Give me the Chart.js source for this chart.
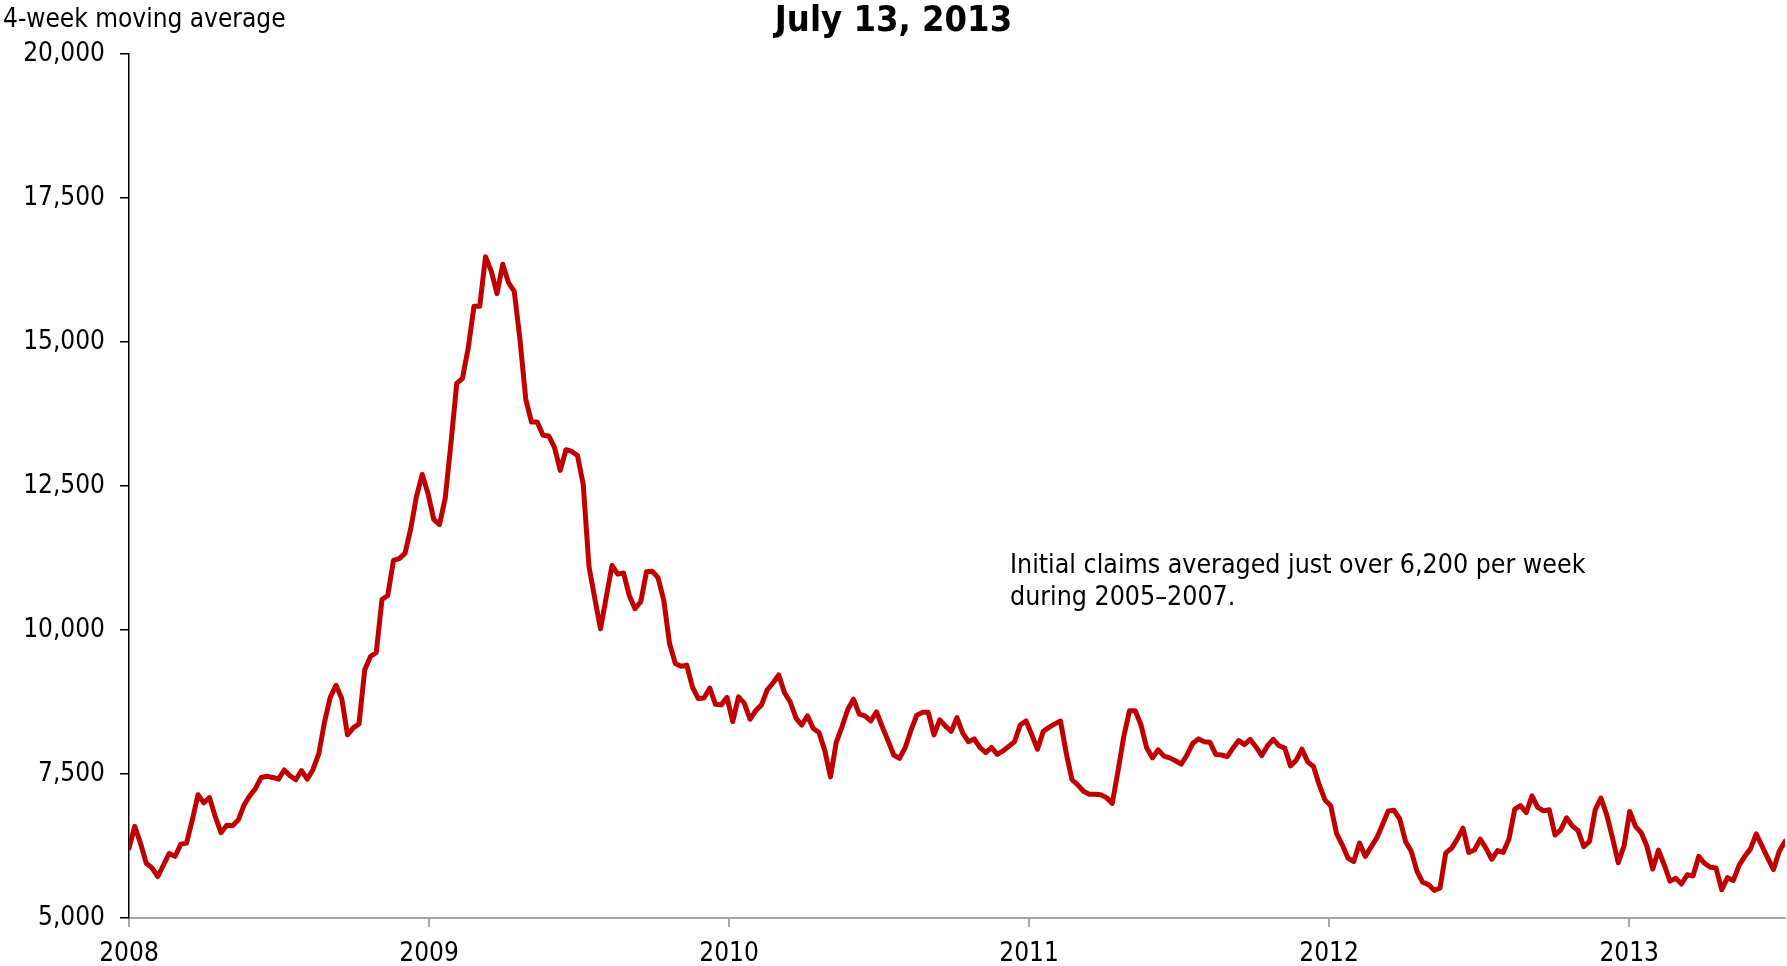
<!DOCTYPE html>
<html>
<head>
<meta charset="utf-8">
<title>Initial claims, 4-week moving average</title>
<script src="https://cdn.jsdelivr.net/npm/chart.js@4.4.0/dist/chart.umd.min.js"></script>
<style>
    html, body { margin: 0; padding: 0; background: #fff; }
    #wrap { position: relative; width: 1787px; height: 966px; }
    .txt {
        position: absolute;
        font-family: 'DejaVu Sans Condensed', 'DejaVu Sans', sans-serif;
        color: #000;
        white-space: nowrap;
    }
    #title { left: 0; width: 1787px; text-align: center; top: 1px; font-size: 36px; font-weight: bold; line-height: 36px; }
    #ylabel { left: 3px; top: 5px; font-size: 26px; line-height: 26px; }
    #note { left: 1010px; top: 548px; font-size: 26.5px; line-height: 32px; }
</style>
</head>
<body>
<div id="wrap">
    <canvas id="chart" width="1787" height="966"></canvas>
    <div class="txt" id="title">July 13, 2013</div>
    <div class="txt" id="ylabel">4-week moving average</div>
    <div class="txt" id="note">Initial claims averaged just over 6,200 per week<br>during 2005–2007.</div>
</div>
<script>
// ///////////////////////
//
// data: weekly 4-week moving average, first week ending 2008-01-05
//
var startYear = 2008;
var yearTicks = [2008, 2009, 2010, 2011, 2012, 2013];
var valueTicks = [5000, 7500, 10000, 12500, 15000, 17500, 20000];

var claims = [
    6210, 6590, 6300, 5950, 5870, 5720, 5920, 6120, 6070, 6280,
    6300, 6700, 7140, 7000, 7090, 6760, 6480, 6610, 6600, 6700,
    6960, 7120, 7250, 7440, 7460, 7440, 7410, 7570, 7470, 7400,
    7560, 7410, 7580, 7850, 8400, 8830, 9040, 8810, 8180, 8300,
    8370, 9310, 9540, 9610, 10530, 10600, 11210, 11240, 11330, 11760,
    12320, 12700, 12370, 11920, 11830, 12290, 13250, 14280, 14370, 14900,
    15620, 15620, 16480, 16230, 15840, 16350, 16030, 15880, 15040, 14010,
    13610, 13610, 13380, 13370, 13170, 12770, 13130, 13100, 13030, 12520,
    11100, 10550, 10020, 10570, 11120, 10970, 10990, 10600, 10370, 10490,
    11010, 11020, 10910, 10520, 9770, 9420, 9370, 9390, 9010, 8810,
    8820, 8990, 8710, 8700, 8830, 8410, 8840, 8730, 8450, 8600,
    8700, 8960, 9080, 9220, 8910, 8750, 8470, 8350, 8510, 8290,
    8220, 7910, 7450, 8050, 8320, 8620, 8800, 8540, 8510, 8420,
    8580, 8320, 8080, 7830, 7770, 7960, 8260, 8520, 8570, 8570,
    8180, 8440, 8330, 8240, 8480, 8210, 8060, 8110, 7960, 7870,
    7960, 7840, 7900, 7980, 8060, 8350, 8420, 8180, 7930, 8240,
    8310, 8370, 8420, 7860, 7400, 7310, 7200, 7150, 7150, 7140,
    7090, 6990, 7550, 8150, 8600, 8600, 8350, 7950, 7780, 7920,
    7810, 7780, 7730, 7670, 7830, 8030, 8110, 8060, 8050, 7840,
    7830, 7800, 7950, 8080, 8010, 8100, 7970, 7820, 7990, 8100,
    7990, 7950, 7640, 7740, 7930, 7710, 7630, 7310, 7050, 6950,
    6470, 6270, 6040, 5980, 6300, 6070, 6230, 6390, 6620, 6860,
    6870, 6720, 6330, 6160, 5810, 5620, 5580, 5480, 5520, 6130,
    6210, 6370, 6560, 6140, 6180, 6370, 6210, 6020, 6170, 6140,
    6370, 6890, 6950, 6830, 7120, 6920, 6860, 6880, 6440, 6530,
    6740, 6600, 6520, 6240, 6330, 6880, 7080, 6790, 6390, 5960,
    6250, 6850, 6590, 6480, 6240, 5850, 6180, 5920, 5640, 5690,
    5590, 5750, 5730, 6070, 5950, 5880, 5870, 5490, 5700, 5650,
    5910, 6070, 6200, 6460, 6250, 6040, 5840, 6160, 6330
];

// week index -> fractional year
var points = claims.map(function(v, i) {
    return { x: startYear + i * 7 / 365.25, y: v };
});
var lastX = points[points.length - 1].x;

var FONT = "'DejaVu Sans Condensed', 'DejaVu Sans', sans-serif";
Chart.defaults.font.family = FONT;
Chart.defaults.color = '#000';

new Chart(document.getElementById('chart'), {
    type: 'line',
    data: {
        datasets: [{
            data: points,
            borderColor: '#C00000',
            borderWidth: 5,
            borderJoinStyle: 'round',
            borderCapStyle: 'round',
            pointRadius: 0,
            tension: 0,
            fill: false
        }]
    },
    options: {
        responsive: false,
        animation: false,
        devicePixelRatio: 1,
        layout: { padding: { left: 0, top: 54, right: 2, bottom: 0 } },
        plugins: {
            legend: { display: false },
            tooltip: { enabled: false },
            title: { display: false }
        },
        scales: {
            x: {
                type: 'linear',
                min: startYear,
                max: lastX,
                grid: { drawOnChartArea: false, drawTicks: true, tickLength: 9, color: '#a6a6a6', lineWidth: 2 },
                border: { display: true, color: '#a6a6a6', width: 2 },
                ticks: {
                    color: '#000',
                    font: { size: 26 },
                    padding: 12,
                    maxRotation: 0,
                    callback: function(v) { return String(v); }
                },
                afterBuildTicks: function(scale) {
                    scale.ticks = yearTicks.map(function(v) { return { value: v }; });
                },
                afterFit: function(scale) { scale.height = 48; }
            },
            y: {
                min: valueTicks[0],
                max: valueTicks[valueTicks.length - 1],
                grid: { drawOnChartArea: false, drawTicks: true, tickLength: 9, color: '#000', lineWidth: 1.5 },
                border: { display: true, color: '#000', width: 1.5 },
                ticks: {
                    color: '#000',
                    font: { size: 26 },
                    padding: 15,
                    callback: function(v) { return v.toLocaleString('en-US'); }
                },
                afterBuildTicks: function(scale) {
                    scale.ticks = valueTicks.map(function(v) { return { value: v }; });
                },
                afterFit: function(scale) { scale.width = 129; }
            }
        }
    }
});
</script>
</body>
</html>
